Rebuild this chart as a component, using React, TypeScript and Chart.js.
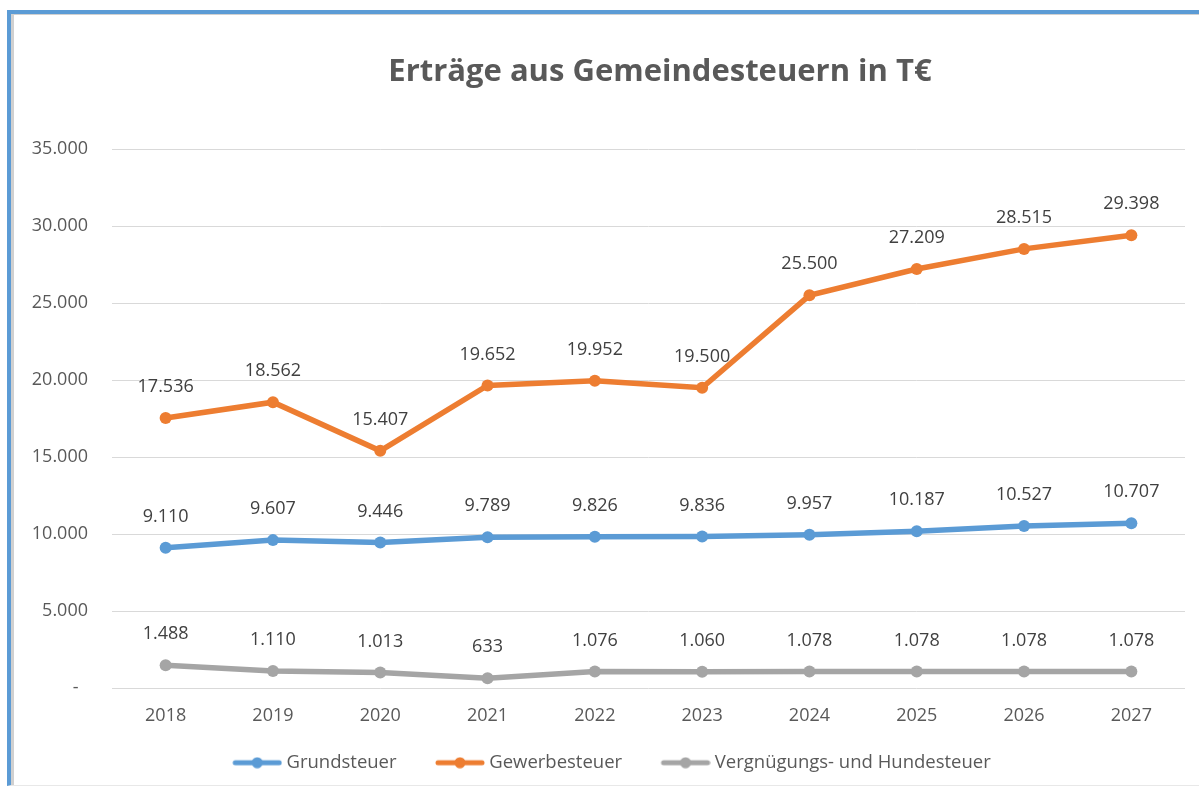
import React, { useEffect, useRef } from "react";
import { Chart, registerables } from "chart.js";

Chart.register(...registerables);

const TITLE = "Erträge aus Gemeindesteuern in T€";
const YEARS = ["2018", "2019", "2020", "2021", "2022", "2023", "2024", "2025", "2026", "2027"];
const SERIES_NAMES = ["Grundsteuer", "Gewerbesteuer", "Vergnügungs- und Hundesteuer"];
const GRUNDSTEUER = [9110, 9607, 9446, 9789, 9826, 9836, 9957, 10187, 10527, 10707];
const GEWERBESTEUER = [17536, 18562, 15407, 19652, 19952, 19500, 25500, 27209, 28515, 29398];
const VERGNUEGUNG_HUNDE = [1488, 1110, 1013, 633, 1076, 1060, 1078, 1078, 1078, 1078];
const COLORS = ["#5B9BD5", "#ED7D31", "#A5A5A5"];
const Y_MIN = 0;
const Y_MAX = 35000;
const Y_STEP = 5000;

const FONT = '"Open Sans", "DejaVu Sans", sans-serif';
const LEGEND_PAD = 26.4;
const LEGEND_BOX = 57;

function fmt(v: number): string {
  return String(v).replace(/\B(?=(\d{3})+(?!\d))/g, ".");
}

// Legend symbol: thick line with a dot, placed in the right part of a wider transparent image
function makeSymbol(color: string): HTMLCanvasElement {
  const c = document.createElement("canvas");
  c.width = 67;
  c.height = 12;
  const g = c.getContext("2d")!;
  const x0 = 17;
  g.strokeStyle = color;
  g.lineWidth = 5;
  g.lineCap = "round";
  g.beginPath();
  g.moveTo(x0 + 3, 6);
  g.lineTo(x0 + 47, 6);
  g.stroke();
  g.fillStyle = color;
  g.beginPath();
  g.arc(x0 + 25, 6, 5.5, 0, Math.PI * 2);
  g.fill();
  return c;
}

const dataLabelPlugin = {
  id: "dataLabels",
  afterDatasetsDraw(chart: any) {
    const ctx = chart.ctx;
    ctx.save();
    ctx.font = `18px ${FONT}`;
    ctx.fillStyle = "#404040";
    ctx.textAlign = "center";
    ctx.textBaseline = "middle";
    chart.data.datasets.forEach((ds: any, i: number) => {
      const meta = chart.getDatasetMeta(i);
      meta.data.forEach((pt: any, j: number) => {
        ctx.fillText(fmt(ds.data[j]), pt.x, pt.y - 31);
      });
    });
    ctx.restore();
  },
};

const titlePlugin = {
  id: "customTitle",
  afterDraw(chart: any) {
    const ctx = chart.ctx;
    ctx.save();
    ctx.font = `bold 31px ${FONT}`;
    ctx.fillStyle = "#595959";
    ctx.textAlign = "center";
    ctx.textBaseline = "middle";
    ctx.fillText(TITLE, 660, 72);
    ctx.restore();
  },
};

export default function App() {
  const ref = useRef<HTMLCanvasElement | null>(null);

  useEffect(() => {
    if (!ref.current) return;
    const symbols = COLORS.map(makeSymbol);
    const seriesData = [GRUNDSTEUER, GEWERBESTEUER, VERGNUEGUNG_HUNDE];
    const chart = new Chart(ref.current, {
      type: "line",
      data: {
        labels: YEARS,
        datasets: seriesData.map((d, i) => ({
          label: SERIES_NAMES[i],
          data: d,
          borderColor: COLORS[i],
          backgroundColor: COLORS[i],
          borderWidth: 5.5,
          pointRadius: 6,
          pointBorderWidth: 0,
          pointBackgroundColor: COLORS[i],
          tension: 0,
          fill: false,
        })),
      },
      options: {
        animation: false,
        responsive: false,
        layout: { padding: { left: 26, right: 14, top: 149, bottom: 5 } },
        scales: {
          x: {
            offset: true,
            grid: { display: false, drawTicks: false },
            border: { display: false },
            ticks: { color: "#595959", font: { family: FONT, size: 18, lineHeight: 1.2 }, padding: 17 },
            afterFit: (s: any) => {
              s.height = 39;
            },
          },
          y: {
            min: Y_MIN,
            max: Y_MAX,
            grid: { color: "#D9D9D9", lineWidth: 1, drawTicks: false },
            border: { display: false },
            ticks: {
              stepSize: Y_STEP,
              color: "#595959",
              font: { family: FONT, size: 18 },
              padding: 24,
              callback: (v: any) => (Number(v) === 0 ? "-  " : fmt(Number(v))),
            },
            afterFit: (s: any) => {
              s.width = 86;
            },
          },
        },
        plugins: {
          title: { display: false },
          tooltip: { enabled: false },
          legend: {
            display: true,
            position: "bottom",
            labels: {
              usePointStyle: true,
              pointStyleWidth: LEGEND_BOX,
              padding: LEGEND_PAD,
              color: "#595959",
              font: { family: FONT, size: 18.5 },
              generateLabels: (c: any) =>
                Chart.defaults.plugins.legend.labels
                  .generateLabels(c)
                  .map((l: any, i: number) => ({ ...l, pointStyle: symbols[i] })),
            },
          },
        },
      },
      plugins: [dataLabelPlugin, titlePlugin],
    } as any);
    return () => chart.destroy();
  }, []);

  return (
    <div style={{ position: "fixed", left: 0, top: 0, width: 1199, height: 787, background: "#fff" }}>
      <div
        style={{
          position: "absolute",
          left: 7,
          top: 10,
          right: 0,
          bottom: 1,
          borderTop: "4px solid #5B9BD5",
          borderLeft: "4px solid #5B9BD5",
          borderBottom: "1px solid #E8E8E8",
          boxShadow: "inset 3px 1px 0 #D0D0D0",
        }}
      />
      <canvas
        ref={ref}
        width={1199}
        height={787}
        style={{ position: "absolute", left: 0, top: 0, width: 1199, height: 787 }}
      />
    </div>
  );
}
